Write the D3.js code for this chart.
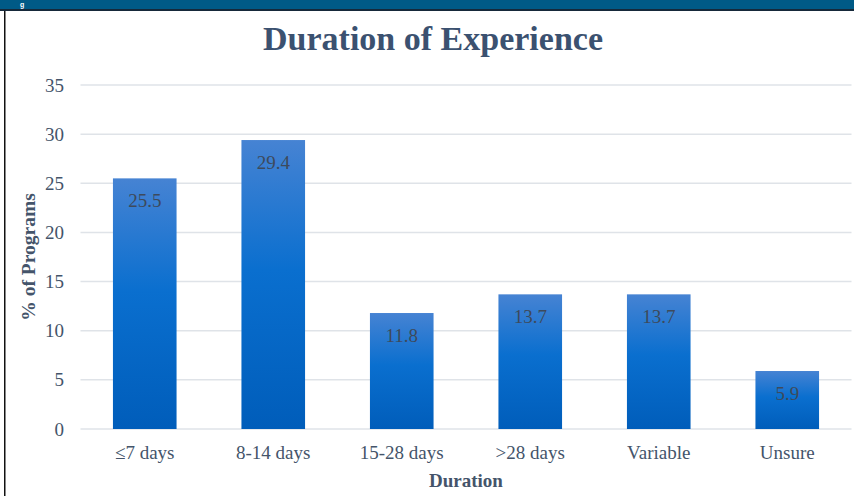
<!DOCTYPE html>
<html><head><meta charset="utf-8">
<script src="https://cdn.jsdelivr.net/npm/d3@7"></script>
<style>body{margin:0;background:#fff;overflow:hidden}svg{display:block}</style>
</head><body>
<svg id="c" width="854" height="496"></svg>
<script>
const categories = ["\u22647 days","8-14 days","15-28 days",">28 days","Variable","Unsure"];
const values = [25.5, 29.4, 11.8, 13.7, 13.7, 5.9];
const yTicks = [0,5,10,15,20,25,30,35];
const title = "Duration of Experience";
const yTitle = "% of Programs";
const xTitle = "Duration";

const svg = d3.select("#c");
const W = 854, H = 496;
const m = {left: 80.5, right: 2.5, top: 85, bottom: 67};
const x = d3.scaleBand().domain(categories).range([m.left, W - m.right]).paddingInner(0.505).paddingOuter(0.2525);
const y = d3.scaleLinear().domain([0, 35]).range([H - m.bottom, m.top]);
const serif = "Liberation Serif, Times New Roman, serif";

const defs = svg.append("defs");
const g = defs.append("linearGradient").attr("id","bg").attr("x1",0).attr("y1",0).attr("x2",0).attr("y2",1);
g.append("stop").attr("offset","0%").attr("stop-color","#4683d3");
g.append("stop").attr("offset","45%").attr("stop-color","#0a6fcf");
g.append("stop").attr("offset","100%").attr("stop-color","#005dba");

// header bar
svg.append("rect").attr("x",0).attr("y",0).attr("width",W).attr("height",10).attr("fill","#005a86");
svg.append("rect").attr("x",0).attr("y",9).attr("width",W).attr("height",2).attr("fill","#16293a");
svg.append("text").attr("x",20).attr("y",7).attr("fill","#fff").attr("font-family","Liberation Sans, Arial, sans-serif")
  .attr("font-weight","bold").attr("font-size",7).text("g");
svg.append("rect").attr("x",4).attr("y",11).attr("width",1.5).attr("height",H-11).attr("fill","#111");

// gridlines
svg.append("g").selectAll("line").data(yTicks).join("line")
  .attr("x1", m.left).attr("x2", W - m.right)
  .attr("y1", d => y(d)).attr("y2", d => y(d))
  .attr("stroke", "#dfe3e8").attr("stroke-width", 1.5);

// y axis labels
const yAxis = d3.axisLeft(y).tickValues(yTicks).tickSize(0).tickPadding(0);
const ya = svg.append("g").attr("transform", `translate(${64},0)`).call(yAxis);
ya.select(".domain").remove();
ya.selectAll("text").attr("font-family",serif).attr("font-size",19).attr("fill","#44546a");

// bars
svg.append("g").selectAll("rect").data(values).join("rect")
  .attr("x", (d,i) => x(categories[i]))
  .attr("width", x.bandwidth())
  .attr("y", d => y(d))
  .attr("height", d => y(0) - y(d))
  .attr("fill", "url(#bg)");

// value labels
svg.append("g").selectAll("text").data(values).join("text")
  .attr("x", (d,i) => x(categories[i]) + x.bandwidth()/2)
  .attr("y", d => y(d) + 28.5)
  .attr("text-anchor","middle")
  .attr("font-family",serif).attr("font-size",19)
  .attr("fill","#3d4a5c").text(d => d.toFixed(1));

// x axis
const xAxis = d3.axisBottom(x).tickSize(0).tickPadding(0);
const xa = svg.append("g").attr("transform", `translate(0,${y(0) + 30})`).call(xAxis);
xa.select(".domain").remove();
xa.selectAll("text").attr("font-family",serif).attr("font-size",19).attr("fill","#44546a").attr("dy",0);

// titles
svg.append("text").attr("x", 433).attr("y", 50).attr("text-anchor","middle")
  .attr("font-family",serif).attr("font-weight","bold").attr("font-size",34)
  .attr("fill","#3b5170").text(title);
svg.append("text").attr("x", 466).attr("y", 487).attr("text-anchor","middle")
  .attr("font-family",serif).attr("font-weight","bold").attr("font-size",19)
  .attr("fill","#44546a").text(xTitle);
svg.append("text").attr("transform","translate(35,257) rotate(-90)").attr("text-anchor","middle")
  .attr("font-family",serif).attr("font-weight","bold").attr("font-size",19.5)
  .attr("fill","#44546a").text(yTitle);
</script>
</body></html>
